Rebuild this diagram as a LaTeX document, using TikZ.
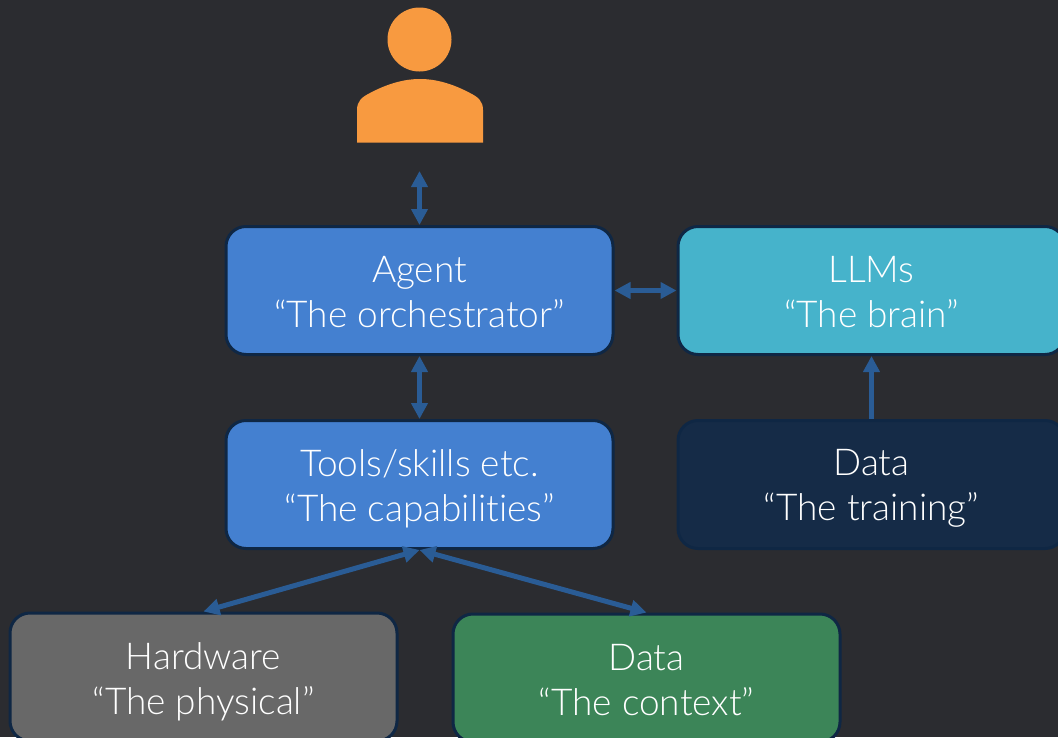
\documentclass[tikz,border=0pt]{standalone}
\usepackage{fontspec}
\setmainfont[Ligatures=NoCommon]{Lato Light}
\usetikzlibrary{arrows.meta}
\definecolor{bg}{HTML}{2B2C30}
\definecolor{edge}{HTML}{0F2744}
\definecolor{blue1}{HTML}{4480D0}
\definecolor{teal1}{HTML}{46B3CB}
\definecolor{navy1}{HTML}{152B47}
\definecolor{gray1}{HTML}{686868}
\definecolor{green1}{HTML}{3C8558}
\definecolor{arr}{HTML}{2A5C95}
\definecolor{person}{HTML}{F89A40}
\tikzset{
 x=1pt,y=-1pt,
 card/.style={draw=edge,line width=3pt,rounded corners=20pt,minimum width=387pt,minimum height=128pt,inner sep=0pt,anchor=center},
 cardtext/.style={text=white,align=center,font=\fontsize{37}{45}\selectfont,inner sep=0pt},
 link/.style={draw=arr,line width=5pt,{Triangle[width=16pt,length=16pt]}-{Triangle[width=16pt,length=16pt]}},
 linkone/.style={draw=arr,line width=5pt,-{Triangle[width=16pt,length=16pt]}},
}
\begin{document}
\begin{tikzpicture}
\path[use as bounding box,fill=bg] (0,0) rectangle (1058,737);
\clip (0,0) rectangle (1058,737);
\fill[person] (419.5,39.5) circle (32);
\fill[person] (357,142.5) -- (357,110) .. controls (357,101) and (362,97) .. (370,93) .. controls (385,85) and (402,79) .. (420,79) .. controls (438,79) and (455,85) .. (470,93) .. controls (478,97) and (483,101) .. (483,110) -- (483,142.5) -- cycle;
\coordinate (userfoot) at (419.5,171);
\node[card,fill=blue1] (agent) at (419.5,290.5) {};
\node[cardtext] (agenttext) at (419.5,292.5) {Agent\\“The orchestrator”};
\node[card,fill=teal1] (llm) at (871.5,290.5) {};
\node[cardtext] (llmtext) at (871.5,292.5) {LLMs\\“The brain”};
\node[card,fill=blue1] (tools) at (419.5,484.5) {};
\node[cardtext] (toolstext) at (419.5,488.5) {Tools/skills etc.\\“The capabilities”};
\node[card,fill=navy1] (train) at (871.5,484.5) {};
\node[cardtext] (traintext) at (871.5,488.5) {Data\\“The training”};
\node[card,fill=gray1] (hw) at (203.5,677) {};
\node[cardtext] (hwtext) at (203.5,681.5) {Hardware\\“The physical”};
\node[card,fill=green1] (ctx) at (646.5,678) {};
\node[cardtext] (ctxtext) at (646.5,680.5) {Data\\“The context”};
\draw[link] (userfoot) -- (agent.north);
\draw[link] (agent.south) -- (tools.north);
\draw[link] (agent.east) -- (llm.west);
\draw[linkone] (train.north) -- (llm.south);
\draw[link] (tools.south) -- (hw.north);
\draw[link] (tools.south) -- (ctx.north);
\end{tikzpicture}
\end{document}
